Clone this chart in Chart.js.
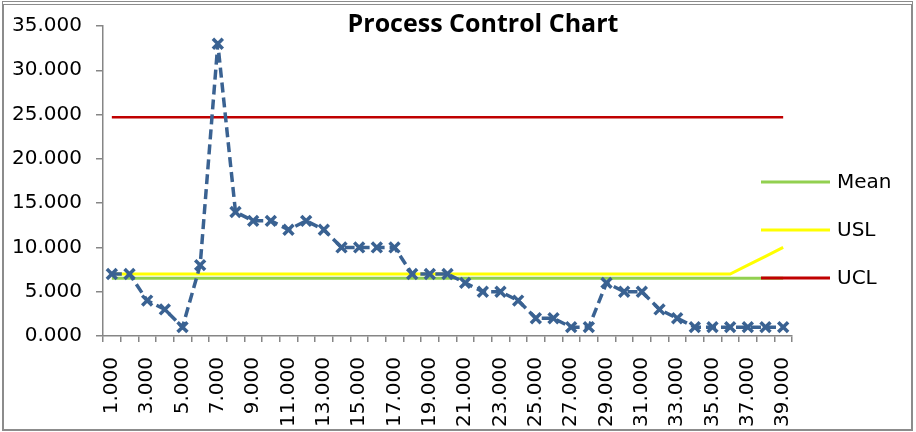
<!DOCTYPE html>
<html>
<head>
<meta charset="utf-8">
<script src="https://cdn.jsdelivr.net/npm/chart.js@4.4.0/dist/chart.umd.min.js"></script>
<style>
  html, body { margin: 0; padding: 0; background: #fff; }
  #wrap { position: relative; width: 916px; height: 432px; }
  #frame { position: absolute; left: 2px; top: 1px; width: 907px; height: 424px;
           border: 2px solid #8c8c8c; border-top: 4px double #8c8c8c; pointer-events: none; }
</style>
</head>
<body>
<div id="wrap">
  <canvas id="controlChart" width="916" height="432"></canvas>
  <div id="frame"></div>
</div>
<script>
// sample numbers (x axis)
const categories = [1, 2, 3, 4, 5, 6, 7, 8, 9, 10, 11, 12, 13, 14, 15, 16, 17, 18, 19, 20,
                    21, 22, 23, 24, 25, 26, 27, 28, 29, 30, 31, 32, 33, 34, 35, 36, 37, 38, 39];

// measured values
const values = [7, 7, 4, 3, 1, 8, 33, 14, 13, 13, 12, 13, 12, 10, 10, 10, 10, 7, 7, 7,
                6, 5, 5, 4, 2, 2, 1, 1, 6, 5, 5, 3, 2, 1, 1, 1, 1, 1, 1];

// reference lines
const meanLine = [6.51, 6.51, 6.51, 6.51, 6.51, 6.51, 6.51, 6.51, 6.51, 6.51, 6.51, 6.51, 6.51,
                  6.51, 6.51, 6.51, 6.51, 6.51, 6.51, 6.51, 6.51, 6.51, 6.51, 6.51, 6.51, 6.51,
                  6.51, 6.51, 6.51, 6.51, 6.51, 6.51, 6.51, 6.51, 6.51, 6.51, 6.51, 6.51, 6.51];
const uslLine = [7, 7, 7, 7, 7, 7, 7, 7, 7, 7, 7, 7, 7, 7, 7, 7, 7, 7, 7, 7,
                 7, 7, 7, 7, 7, 7, 7, 7, 7, 7, 7, 7, 7, 7, 7, 7, 8, 9, 10];
const uclLine = [24.7, 24.7, 24.7, 24.7, 24.7, 24.7, 24.7, 24.7, 24.7, 24.7, 24.7, 24.7, 24.7,
                 24.7, 24.7, 24.7, 24.7, 24.7, 24.7, 24.7, 24.7, 24.7, 24.7, 24.7, 24.7, 24.7,
                 24.7, 24.7, 24.7, 24.7, 24.7, 24.7, 24.7, 24.7, 24.7, 24.7, 24.7, 24.7, 24.7];

const yTicks = [0, 5, 10, 15, 20, 25, 30, 35];

const TEXT_FONT = 'DejaVu Sans';
const AXIS_GRAY = '#868686';

// タイトルと凡例（グラフ領域に重ねて描く）
const overlayPlugin = {
    id: 'overlay',
    afterDraw(chart) {
        const ctx = chart.ctx;
        ctx.save();
        ctx.fillStyle = '#000';
        ctx.font = 'bold 25px "Open Sans"';
        ctx.textAlign = 'center';
        ctx.textBaseline = 'alphabetic';
        ctx.fillText('Process Control Chart', 483, 32);

        ctx.font = `20px "${TEXT_FONT}"`;
        ctx.textAlign = 'left';
        ctx.textBaseline = 'middle';
        chart.data.datasets.slice(1).forEach((ds, i) => {
            const y = 182 + i * 48;
            ctx.strokeStyle = ds.borderColor;
            ctx.lineWidth = 3;
            ctx.beginPath();
            ctx.moveTo(761, y);
            ctx.lineTo(830, y);
            ctx.stroke();
            ctx.fillStyle = '#000';
            ctx.fillText(ds.label, 837, y + 1);
        });
        ctx.restore();
    }
};

const ctx = document.getElementById('controlChart');
new Chart(ctx, {
    type: 'line',
    data: {
        labels: categories,
        datasets: [
            {
                label: 'Data',
                data: values,
                borderColor: '#3A6292',
                borderWidth: 3.5,
                borderDash: [10, 5],
                pointStyle: 'crossRot',
                pointRadius: 7,
                pointBorderWidth: 3.5,
                pointBorderColor: '#3A6292',
                pointBackgroundColor: '#3A6292',
                tension: 0
            },
            { label: 'Mean', data: meanLine, borderColor: '#92D050', borderWidth: 3, pointRadius: 0 },
            { label: 'USL', data: uslLine, borderColor: '#FFFF00', borderWidth: 3, pointRadius: 0 },
            { label: 'UCL', data: uclLine, borderColor: '#C00000', borderWidth: 2.5, pointRadius: 0 }
        ]
    },
    options: {
        responsive: false,
        animation: false,
        devicePixelRatio: 1,
        layout: { padding: { top: 22, right: 124, bottom: 0, left: 0 } },
        scales: {
            x: {
                type: 'category',
                offset: true,
                grid: { offset: true, drawOnChartArea: false, tickLength: 6, color: AXIS_GRAY, lineWidth: 1.5 },
                border: { color: AXIS_GRAY, width: 1.5 },
                ticks: {
                    autoSkip: false,
                    minRotation: 90,
                    maxRotation: 90,
                    padding: 15,
                    color: '#000',
                    font: { family: TEXT_FONT, size: 20 },
                    callback: function(val, index) {
                        return index % 2 === 0 ? categories[index].toFixed(3) : '';
                    }
                },
                afterFit(scale) { scale.height = 96; }
            },
            y: {
                min: yTicks[0],
                max: yTicks[yTicks.length - 1],
                grid: { drawOnChartArea: false, tickLength: 7, color: AXIS_GRAY, lineWidth: 1.5 },
                border: { color: AXIS_GRAY, width: 1.5 },
                afterBuildTicks(scale) { scale.ticks = yTicks.map(v => ({ value: v })); },
                ticks: {
                    padding: 14,
                    color: '#000',
                    font: { family: TEXT_FONT, size: 20 },
                    callback: v => Number(v).toFixed(3)
                },
                afterFit(scale) { scale.width = 103; }
            }
        },
        plugins: {
            legend: { display: false },
            title: { display: false },
            tooltip: { enabled: false }
        }
    },
    plugins: [overlayPlugin]
});
</script>
</body>
</html>
